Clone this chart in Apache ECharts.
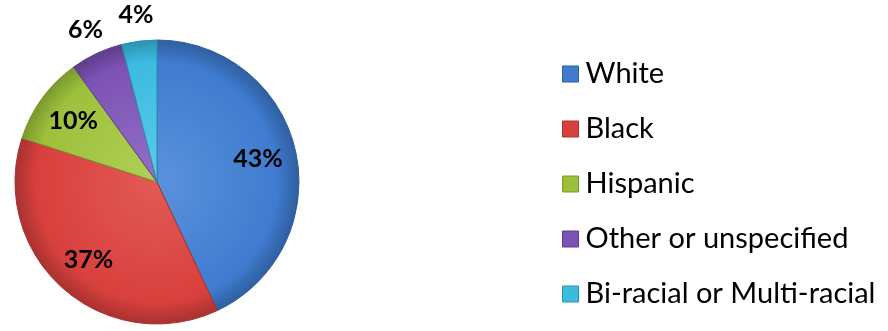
<!DOCTYPE html>
<html>
<head>
<meta charset="utf-8">
<script src="https://cdn.jsdelivr.net/npm/echarts@6/dist/echarts.min.js"></script>
<style>
  html, body { margin: 0; padding: 0; background: #ffffff; }
  #chart { width: 888px; height: 331px; }
</style>
</head>
<body>
<div id="chart"></div>
<script>
// Share of each group, in percent
const categories = ['White', 'Black', 'Hispanic', 'Other or unspecified', 'Bi-racial or Multi-racial'];
const shares = [43, 37, 10, 6, 4];
const sliceColors = ['#3f7bcf', '#d8403d', '#9dc03c', '#7d52b5', '#3bbbe0'];
const lightColors = ['#5a92dc', '#e25a55', '#b0d056', '#9270c6', '#5ccbea'];
const edgeColors = ['#2f5f9f', '#a83230', '#7a9a2e', '#5e3d8a', '#2b93b0'];

const pieCenter = [157, 182];
const pieRadius = 142;

const chart = echarts.init(document.getElementById('chart'), null, { renderer: 'canvas' });

// Soft radial shading shared by all slices, centred on the pie
function sliceFill(i) {
  return {
    type: 'radial', global: true,
    x: pieCenter[0], y: pieCenter[1], r: pieRadius,
    colorStops: [
      { offset: 0, color: lightColors[i] },
      { offset: 0.85, color: sliceColors[i] },
      { offset: 1, color: edgeColors[i] }
    ]
  };
}

const data = categories.map((name, i) => ({
  name: name,
  value: shares[i],
  itemStyle: { color: sliceFill(i), borderColor: edgeColors[i] }
}));

chart.setOption({
  backgroundColor: '#ffffff',
  animation: false,
  legend: {
    orient: 'vertical',
    left: 557,
    top: 54,
    itemWidth: 16,
    itemHeight: 16,
    itemGap: 25,
    icon: 'rect',
    data: categories.map((name, i) => ({
      name: name,
      itemStyle: { color: sliceColors[i], borderColor: edgeColors[i], borderWidth: 1 }
    })),
    textStyle: {
      fontFamily: 'Lato, "Noto Sans", sans-serif',
      fontSize: 29,
      lineHeight: 30,
      color: '#000000',
      padding: [0, 0, 0, 2]
    }
  },
  series: [{
    type: 'pie',
    center: pieCenter,
    radius: pieRadius,
    startAngle: 90,
    clockwise: true,
    avoidLabelOverlap: false,
    data: data,
    itemStyle: { borderWidth: 1 },
    emphasis: { disabled: true },
    label: {
      show: true,
      position: 'inside',
      formatter: '{c}%',
      fontFamily: 'Lato, "Noto Sans", sans-serif',
      fontWeight: 'bold',
      fontSize: 25,
      color: '#000000'
    },
    labelLine: { show: false },
    // Push labels outward along their slice direction; small slices get theirs outside the rim
    labelLayout: function (p) {
      const r = p.labelRect;
      const lx = r.x + r.width / 2;
      const ly = r.y + r.height / 2;
      const k = shares[p.dataIndex] >= 10 ? 0.4 : 1.27;
      return { dx: (lx - pieCenter[0]) * k, dy: (ly - pieCenter[1]) * k };
    }
  }]
});
</script>
</body>
</html>
